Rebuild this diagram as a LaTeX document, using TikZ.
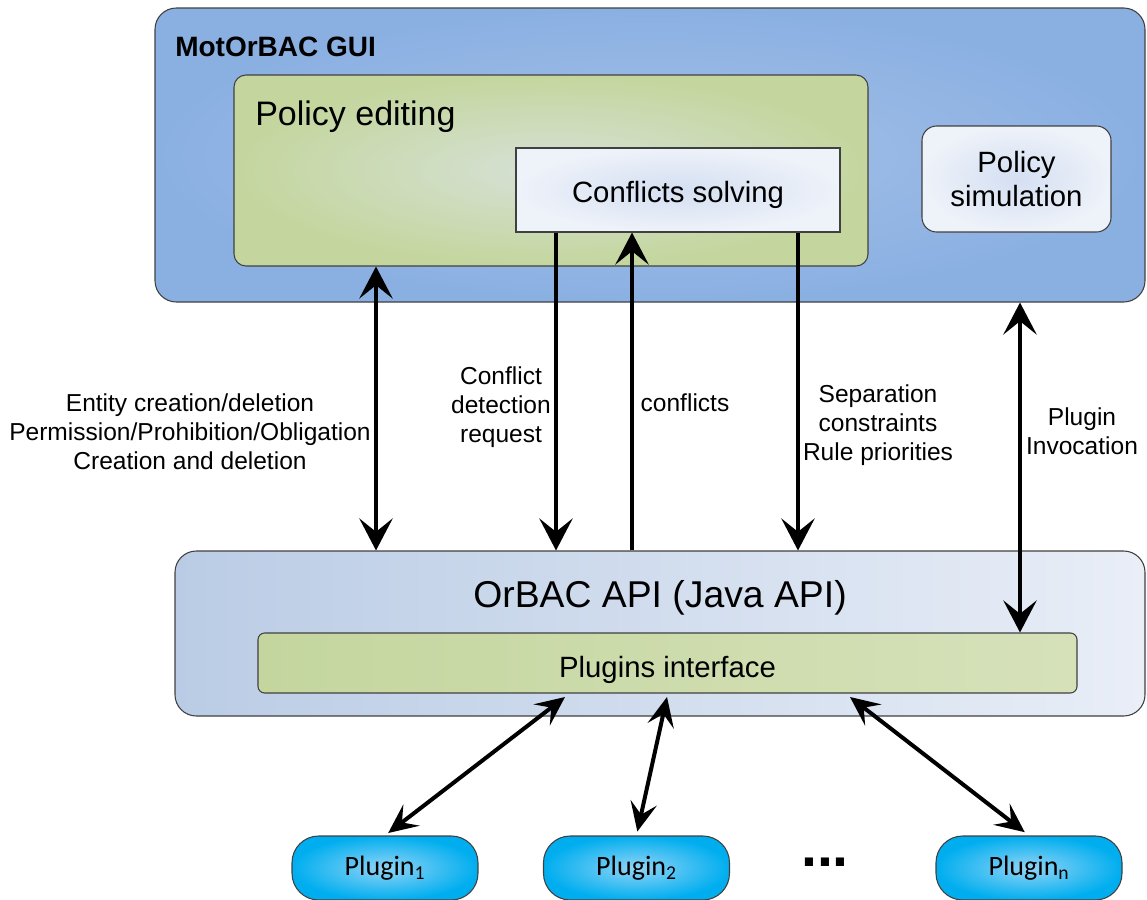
\documentclass[tikz,border=0pt]{standalone}
\usepackage{fontspec}
\setmainfont{Liberation Sans}
\newfontfamily\plugfont{Carlito}
\usetikzlibrary{arrows.meta,shadings}

\definecolor{guiblue}{RGB}{138,176,226}
\definecolor{guilight}{RGB}{165,192,231}
\definecolor{editgreen}{RGB}{196,214,158}
\definecolor{editlight}{RGB}{214,225,214}
\definecolor{paleblue}{RGB}{238,242,249}
\definecolor{palemid}{RGB}{212,223,242}
\definecolor{apileft}{RGB}{186,204,229}
\definecolor{apiright}{RGB}{233,238,247}
\definecolor{ifright}{RGB}{214,225,186}
\definecolor{plugcyan}{RGB}{0,174,239}
\definecolor{pluglight}{RGB}{145,212,246}
\definecolor{edge}{RGB}{64,64,64}

\begin{document}
\begin{tikzpicture}[x=0.75pt, y=-0.75pt,
    >={Stealth[length=24pt, width=25pt, inset=10pt]},
    layer/.style={
        rectangle,
        rounded corners=16pt,
        draw=edge,
        line width=0.8pt
        },
    panel/.style={
    % boxes with text inside
        rectangle,
        draw=edge,
        line width=0.8pt,
        align=center,
        font=\fontsize{22}{26}\selectfont},
    plugin/.style={
        rectangle,
        rounded corners=20pt,
        draw=edge,
        line width=0.8pt,
        minimum width=139.5pt, minimum height=48pt,
        inner color=pluglight, outer color=plugcyan,
        font=\plugfont\fontsize{21}{24}\selectfont},
    msg/.style={
        align=center,
        inner sep=0pt,
        font=\fontsize{18.4}{21.75}\selectfont},
    link/.style={line width=3pt},
    plug link/.style={
        line width=3pt,
        >={Stealth[length=22pt, width=20pt, inset=9pt]}}]

    \useasboundingbox (0,0) rectangle (1147,900);

    \node (gui) [layer, minimum width=742.5pt, minimum height=220.5pt, inner color=guilight, outer color=guiblue] at (650,155) {};
    \node (gui_title) [anchor=west, inner sep=0pt, font=\bfseries\fontsize{21}{24}\selectfont] at (175,47) {MotOrBAC GUI};

    \node (editing) [layer, rounded corners=9pt, minimum width=475.5pt, minimum height=143.25pt, inner color=editlight, outer color=editgreen] at (551,170.5) {};
    \node (editing_title) [anchor=base west, inner sep=0pt, font=\fontsize{25.5}{30}\selectfont] at (255,125) {Policy editing};

    \node (solving) [panel, text height=18pt, text depth=0pt, minimum width=243pt, minimum height=63pt, inner color=palemid, outer color=paleblue] at (678,190) {Conflicts solving};
    \node (simulation) [panel, rounded corners=11pt, minimum width=141.75pt, minimum height=79.5pt, inner color=palemid, outer color=paleblue] at (1016.5,179) {Policy\\simulation};

    \node (api) [layer, minimum width=727.5pt, minimum height=123.75pt, left color=apileft, right color=apiright] at (660,633.5) {};
    \node (api_title) [inner sep=0pt, font=\fontsize{28}{32}\selectfont] at (660,598) {OrBAC API (Java API)};
    \node (plugif) [panel, rounded corners=5pt, text height=22pt, text depth=0pt, minimum width=614.25pt, minimum height=45pt, left color=editgreen, right color=ifright] at (667.5,663) {Plugins interface};

    \node (plugin1) [plugin] at (385,868) {Plugin\textsubscript{1}};
    \node (plugin2) [plugin] at (636.5,868) {Plugin\textsubscript{2}};
    \node (dots) [anchor=base, inner sep=0pt, font=\bfseries\fontsize{43}{43}\selectfont] at (825,866) {...};
    \node (pluginn) [plugin] at (1029,868) {Plugin\textsubscript{n}};

    \node (lbl_entity) [msg] at (190,432) {Entity creation/deletion\\Permission/Prohibition/Obligation\\Creation and deletion};
    \node (lbl_request) [msg] at (501,407) {Conflict\\detection\\request};
    \node (lbl_conflicts) [msg] at (685,403) {conflicts};
    \node (lbl_separation) [msg] at (878,425) {Separation\\constraints\\Rule priorities};
    \node (lbl_invocation) [msg] at (1082,431) {Plugin\\Invocation};

    \coordinate (col_entity) at (376,0);
    \coordinate (col_request) at (556,0);
    \coordinate (col_conflicts) at (632,0);
    \coordinate (col_separation) at (798,0);
    \coordinate (col_invocation) at (1020,0);

    \draw[link, <->] (editing.south -| col_entity) -- (api.north -| col_entity);
    \draw[link, ->] (solving.south -| col_request) -- (api.north -| col_request);
    \draw[link, ->] (api.north -| col_conflicts) -- (solving.south -| col_conflicts);
    \draw[link, ->] (solving.south -| col_separation) -- (api.north -| col_separation);
    \draw[link, <->] (gui.south -| col_invocation) -- (plugif.north -| col_invocation);

    \coordinate (tap1) at (565,697);
    \coordinate (tap2) at (667,697);
    \coordinate (tapn) at (850,697);

    \draw[plug link, <->, shorten >=3pt] (tap1) -- (plugin1.north);
    \draw[plug link, <->, shorten >=3pt] (tap2) -- (plugin2.north);
    \draw[plug link, <->, shorten >=4pt] (tapn) -- (pluginn.north);
\end{tikzpicture}
\end{document}
